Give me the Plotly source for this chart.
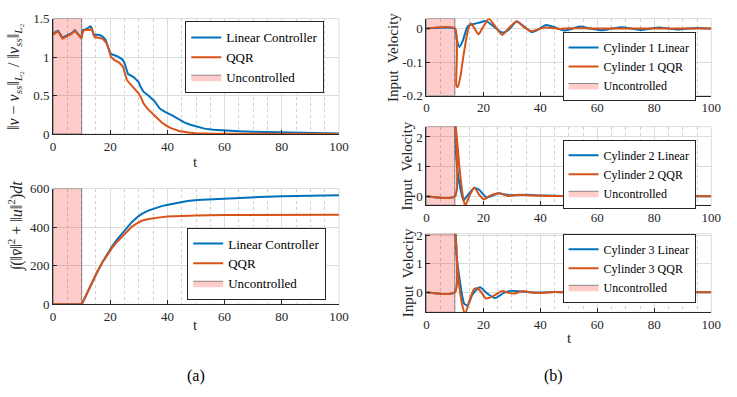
import plotly.graph_objects as go

# ---------------- data ----------------
unc_start, unc_end = 0, 10

# (a) top: normalized L2 error
err_lin_t = [0, 1, 1.8, 3.3, 4.3, 5.3, 6.5, 7.6, 8.5, 9.3, 9.9, 10.4, 11.5, 12.3, 13, 13.5, 14.2, 15.5, 16.7, 17.5,
             18.4, 19.3, 20.2, 22.4, 24.2, 24.9, 26.2, 28.2, 29.9, 30.8, 31.6, 33.3, 35.4, 37.3, 39, 41.3, 43.5,
             45.9, 48, 50.5, 53, 56, 60, 65, 70, 80, 90, 100]
err_lin_v = [1.30, 1.33, 1.34, 1.25, 1.27, 1.29, 1.31, 1.35, 1.31, 1.28, 1.25, 1.35, 1.36, 1.38, 1.40, 1.38, 1.29,
             1.29, 1.28, 1.26, 1.22, 1.12, 1.04, 1.01, 0.97, 0.93, 0.78, 0.74, 0.675, 0.60, 0.55, 0.50, 0.43, 0.33,
             0.29, 0.25, 0.20, 0.15, 0.12, 0.09, 0.07, 0.055, 0.042, 0.035, 0.028, 0.02, 0.013, 0.008]
err_qqr_t = [0, 1, 1.8, 3.3, 4.3, 5.3, 6.5, 7.6, 8.5, 9.3, 9.9, 10.4, 11, 12.7, 13.5, 14.5, 15.5, 17.3, 18.7, 19.5,
             20.2, 21.5, 23, 24.4, 25.8, 27, 28.2, 29.9, 30.8, 31.6, 33, 34.5, 36.8, 38, 39.6, 41, 42.5, 44, 47.3,
             50, 56, 65, 80, 100]
err_qqr_v = [1.29, 1.32, 1.33, 1.24, 1.26, 1.28, 1.30, 1.34, 1.30, 1.27, 1.24, 1.33, 1.35, 1.35, 1.37, 1.26, 1.25,
             1.24, 1.18, 1.10, 1.00, 0.96, 0.93, 0.88, 0.70, 0.65, 0.61, 0.53, 0.47, 0.40, 0.33, 0.28, 0.20, 0.15,
             0.11, 0.08, 0.06, 0.04, 0.02, 0.01, 0.004, 0.002, 0.001, 0.0]

# (a) bottom: accumulated cost
cost_lin_t = [0, 10, 11, 12, 13.9, 15.5, 17.3, 19, 20.7, 22.5, 24.2, 26, 27.6, 29.3, 31, 33.3, 35.6, 38, 40.2, 43.5,
              47, 50.5, 54, 60, 65.4, 72, 80, 90, 100]
cost_lin_v = [0, 0, 30, 62, 120, 170, 220, 262, 302, 338, 369, 400, 427, 450, 469, 486, 499, 509, 516, 527,
              536, 541, 544, 549, 552, 556, 560, 563, 565]
cost_qqr_t = [0, 10, 11, 12, 13.9, 15.5, 17.3, 19, 20.7, 22.5, 24.2, 26, 27.6, 29.3, 31, 33.3, 35.6, 38, 40, 42.5,
              45, 50, 60, 80, 100]
cost_qqr_v = [0, 0, 30, 62, 120, 170, 218, 258, 294, 326, 353, 381, 403, 420, 433, 442, 448, 452, 455, 457,
              459, 461, 463, 464, 464]

# (b) cylinder 1
c1_lin_t = [0, 10, 10.6, 11.6, 12.8, 14.5, 16.2, 19.1, 20.8, 23.1, 26.6, 28.9, 31.7, 34, 36.9, 39, 42, 45, 48.4,
            51, 53.7, 57.7, 61.7, 65, 68.6, 72, 75.5, 78.6, 81.7, 85, 88, 91.5, 95, 100]
c1_lin_v = [0, 0, -0.03, -0.055, -0.036, 0.007, 0.013, 0.019, 0.023, 0.01, -0.012, -0.003, 0.021, 0.008, -0.01,
            -0.004, 0.011, 0.004, -0.006, -0.001, 0.006, 0.0, -0.005, 0.0, 0.004, 0.0, -0.004, 0.0, 0.003, 0.0,
            -0.003, 0.0, 0.002, 0.0]
c1_qqr_t = [0, 10, 10.5, 11.0, 12, 12.8, 13.8, 14.5, 15.5, 16.8, 18.3, 19.7, 21.9, 23.6, 26.6, 28.8, 31.7, 34,
            36.9, 39, 41.5, 44, 47, 50, 55, 60, 70, 80, 100]
c1_qqr_v = [0, 0, -0.17, -0.175, -0.14, -0.093, -0.04, -0.008, 0.016, 0.002, -0.017, 0.002, 0.029, 0.013, -0.019,
            0.0, 0.022, 0.006, -0.008, -0.003, 0.003, 0.002, -0.001, 0.001, 0.001, 0.0, 0.0, 0.0, 0.0]

# (b) cylinder 2
c2_lin_t = [0, 10, 10.1, 10.4, 11.6, 13, 14.5, 16.8, 18.4, 21.2, 25.3, 27.5, 30, 35, 40, 45, 50, 60, 100]
c2_lin_v = [0, 0, 2.5, 1.41, 0.44, -0.13, 0.04, 0.28, 0.23, -0.04, 0.10, 0.06, 0.04, 0.05, 0.03, 0.02, 0.01, 0.0, 0.0]
c2_qqr_t = [0, 10, 10.05, 11.6, 12.8, 13.6, 15.1, 16.8, 18.4, 20.2, 21.9, 25.3, 28.9, 32.3, 35, 40, 45, 50, 60, 100]
c2_qqr_v = [0, 0, 2.6, 0.98, 0.01, -0.32, 0.01, 0.30, 0.07, -0.10, 0.0, 0.10, 0.01, 0.05, 0.04, 0.02, 0.01, 0.005,
            0.0, 0.0]

# (b) cylinder 3
c3_lin_t = [0, 10, 10.1, 10.4, 11.6, 13.3, 14.5, 16.2, 18.8, 21.2, 24.1, 27.2, 30, 33, 36, 40, 45, 50, 55, 60, 100]
c3_lin_v = [0, 0, 2.3, 1.5, 0.5, -0.40, -0.46, -0.07, 0.18, -0.03, -0.20, -0.02, 0.05, 0.03, 0.0, -0.01, 0.01,
            -0.01, 0.0, 0.0, 0.0]
c3_qqr_t = [0, 10, 10.05, 11, 12.5, 13.6, 15.1, 16.8, 17.9, 19.3, 20.8, 23.1, 26.6, 28.9, 31, 33.8, 36.5, 40, 45,
            50, 60, 100]
c3_qqr_v = [0, 0, 2.3, 0.72, -0.40, -0.75, -0.29, 0.12, 0.14, 0.0, -0.21, -0.15, 0.05, -0.02, -0.04, 0.05, 0.0,
            -0.02, 0.01, 0.0, 0.0, 0.0]

# axis ranges and ticks
x_range = [0, 100]
x_ticks = [0, 20, 40, 60, 80, 100]
y1_range = [0, 1.5];     y1_ticks = [0, 0.5, 1, 1.5];   y1_text = ["0", "0.5", "1", "1.5"]
y2_range = [0, 600];     y2_ticks = [0, 200, 400, 600]; y2_text = ["0", "200", "400", "600"]
y3_range = [-0.2, 0.03]; y3_ticks = [-0.2, -0.1, 0];    y3_text = ["-0.2", "-0.1", "0"]
y4_range = [-0.3, 2.35]; y4_ticks = [0, 1, 2];          y4_text = ["0", "1", "2"]
y5_range = [-0.7, 2.05]; y5_ticks = [0, 1, 2];          y5_text = ["0", "1", "2"]

# ---------------- style ----------------
BLUE = "#0072BD"
ORANGE = "#D95319"
FONT = "Liberation Serif"
AX = "#262626"
W, H = 737, 397


def px_x(p):
    return p / W


def px_y(p):
    return 1 - p / H


fig = go.Figure()

panels = [
    (1, err_lin_t, err_lin_v, err_qqr_t, err_qqr_v, ("Linear Controller", "QQR"), y1_range, "legend", False),
    (2, cost_lin_t, cost_lin_v, cost_qqr_t, cost_qqr_v, ("Linear Controller", "QQR"), y2_range, "legend2", False),
    (3, c1_lin_t, c1_lin_v, c1_qqr_t, c1_qqr_v, ("Cylinder 1 Linear", "Cylinder 1 QQR"), y3_range, "legend3", True),
    (4, c2_lin_t, c2_lin_v, c2_qqr_t, c2_qqr_v, ("Cylinder 2 Linear", "Cylinder 2 QQR"), y4_range, "legend4", True),
    (5, c3_lin_t, c3_lin_v, c3_qqr_t, c3_qqr_v, ("Cylinder 3 Linear", "Cylinder 3 QQR"), y5_range, "legend5", True),
]

for idx, lt, lv, qt, qv, names, yr, leg, spl in panels:
    xa = "x" if idx == 1 else f"x{idx}"
    ya = "y" if idx == 1 else f"y{idx}"
    fig.add_trace(go.Scatter(
        x=[unc_start, unc_end, unc_end, unc_start, unc_start],
        y=[yr[0], yr[0], yr[1], yr[1], yr[0]],
        fill="toself", fillcolor="rgba(255,0,0,0.2)", mode="lines",
        line=dict(color="rgba(60,60,60,0.7)", width=0.8),
        name="Uncontrolled", xaxis=xa, yaxis=ya, legend=leg, legendrank=3, hoverinfo="skip"))
    shape = "spline" if spl else "linear"
    fig.add_trace(go.Scatter(x=lt, y=lv, mode="lines", name=names[0],
                             line=dict(color=BLUE, width=2, shape=shape, smoothing=0.6),
                             xaxis=xa, yaxis=ya, legend=leg, legendrank=1))
    fig.add_trace(go.Scatter(x=qt, y=qv, mode="lines", name=names[1],
                             line=dict(color=ORANGE, width=2, shape=shape, smoothing=0.6),
                             xaxis=xa, yaxis=ya, legend=leg, legendrank=2))

doms = {
    1: ((51, 342), (12, 132)),
    2: ((51, 342), (188.7, 309)),
    3: ((431, 721), (12, 92)),
    4: ((431, 721), (124.3, 206)),
    5: ((431, 721), (235.7, 317.3)),
}
yinfo = {1: (y1_range, y1_ticks, y1_text), 2: (y2_range, y2_ticks, y2_text), 3: (y3_range, y3_ticks, y3_text),
         4: (y4_range, y4_ticks, y4_text), 5: (y5_range, y5_ticks, y5_text)}

layout = {}
shapes = []
for idx, ((x0, x1), (yt, yb)) in doms.items():
    xk = "xaxis" if idx == 1 else f"xaxis{idx}"
    yk = "yaxis" if idx == 1 else f"yaxis{idx}"
    xs = "x" if idx == 1 else f"x{idx}"
    ys = "y" if idx == 1 else f"y{idx}"
    yr, yt_vals, yt_text = yinfo[idx]
    layout[xk] = dict(domain=[px_x(x0), px_x(x1)], anchor=ys,
                      range=x_range, tickvals=x_ticks, ticks="inside", ticklen=4, tickcolor=AX,
                      showline=True, linecolor=AX, linewidth=1, showgrid=True, gridcolor="#dcdcdc",
                      gridwidth=1, zeroline=False, tickfont=dict(family=FONT, size=13, color=AX),
                      minor=dict(dtick=5, tick0=0, showgrid=True, gridcolor="#cfcfcf", griddash="dot",
                                 gridwidth=1, ticks=""))
    layout[yk] = dict(domain=[px_y(yb), px_y(yt)], anchor=xs,
                      range=yr, tickvals=yt_vals, ticktext=yt_text, ticks="inside", ticklen=4, tickcolor=AX,
                      showline=True, linecolor=AX, linewidth=1, showgrid=True, gridcolor="#dcdcdc",
                      zeroline=False, tickfont=dict(family=FONT, size=13, color=AX))
    shapes.append(dict(type="rect", xref=f"{xs} domain", yref=f"{ys} domain", x0=0, x1=1, y0=0, y1=1,
                       line=dict(color="#dcdcdc", width=1), layer="below"))

legbase = dict(bgcolor="white", bordercolor=AX, borderwidth=1, xanchor="right",
               itemwidth=30, tracegroupgap=0, traceorder="normal")
legs = {"legend": (327, 15, "top", 13), "legend2": (329, 304, "bottom", 13), "legend3": (705, 26, "top", 12),
        "legend4": (705, 138, "top", 12), "legend5": (705, 235.7, "top", 12)}
for k, (lx, ly, anc, fs) in legs.items():
    layout[k] = dict(legbase, x=px_x(lx), y=px_y(ly), yanchor=anc,
                     font=dict(family=FONT, size=fs, color="#000000"))

ann_font = dict(family=FONT, size=15, color=AX)
annotations = [
    dict(text="‖<i>v</i> − <i>v</i><sub><i>ss</i></sub>‖<sub><i>L</i>₂</sub> / ‖<i>v</i><sub><i>ss</i></sub>‖<sub><i>L</i>₂</sub>",
         x=px_x(11), y=px_y(72), textangle=-90, font=dict(family=FONT, size=16, color=AX)),
    dict(text="∫(‖<i>v̄</i>‖<sup>2</sup> + ‖<i>u</i>‖<sup>2</sup>)<i>dt</i>",
         x=px_x(14), y=px_y(228), textangle=-90, font=dict(family=FONT, size=16, color=AX)),
    dict(text="Input  Velocity", x=px_x(397), y=px_y(52), textangle=-90, font=ann_font),
    dict(text="Input  Velocity", x=px_x(411), y=px_y(165), textangle=-90, font=ann_font),
    dict(text="Input  Velocity", x=px_x(412), y=px_y(276), textangle=-90, font=ann_font),
    dict(text="t", x=px_x(196), y=px_y(161), font=ann_font),
    dict(text="t", x=px_x(196), y=px_y(331), font=ann_font),
    dict(text="t", x=px_x(577), y=px_y(344), font=ann_font),
    dict(text="(a)", x=px_x(196), y=px_y(383), font=dict(family=FONT, size=16, color="#000")),
    dict(text="(b)", x=px_x(560), y=px_y(383), font=dict(family=FONT, size=16, color="#000")),
]
for a in annotations:
    a.update(xref="paper", yref="paper", showarrow=False, xanchor="center", yanchor="middle")

fig.update_layout(**layout)
fig.update_layout(width=W, height=H, margin=dict(l=0, r=0, t=0, b=0), plot_bgcolor="white",
                  paper_bgcolor="white", annotations=annotations, shapes=shapes, showlegend=True,
                  font=dict(family=FONT, color=AX))

fig.write_html("out.html")
